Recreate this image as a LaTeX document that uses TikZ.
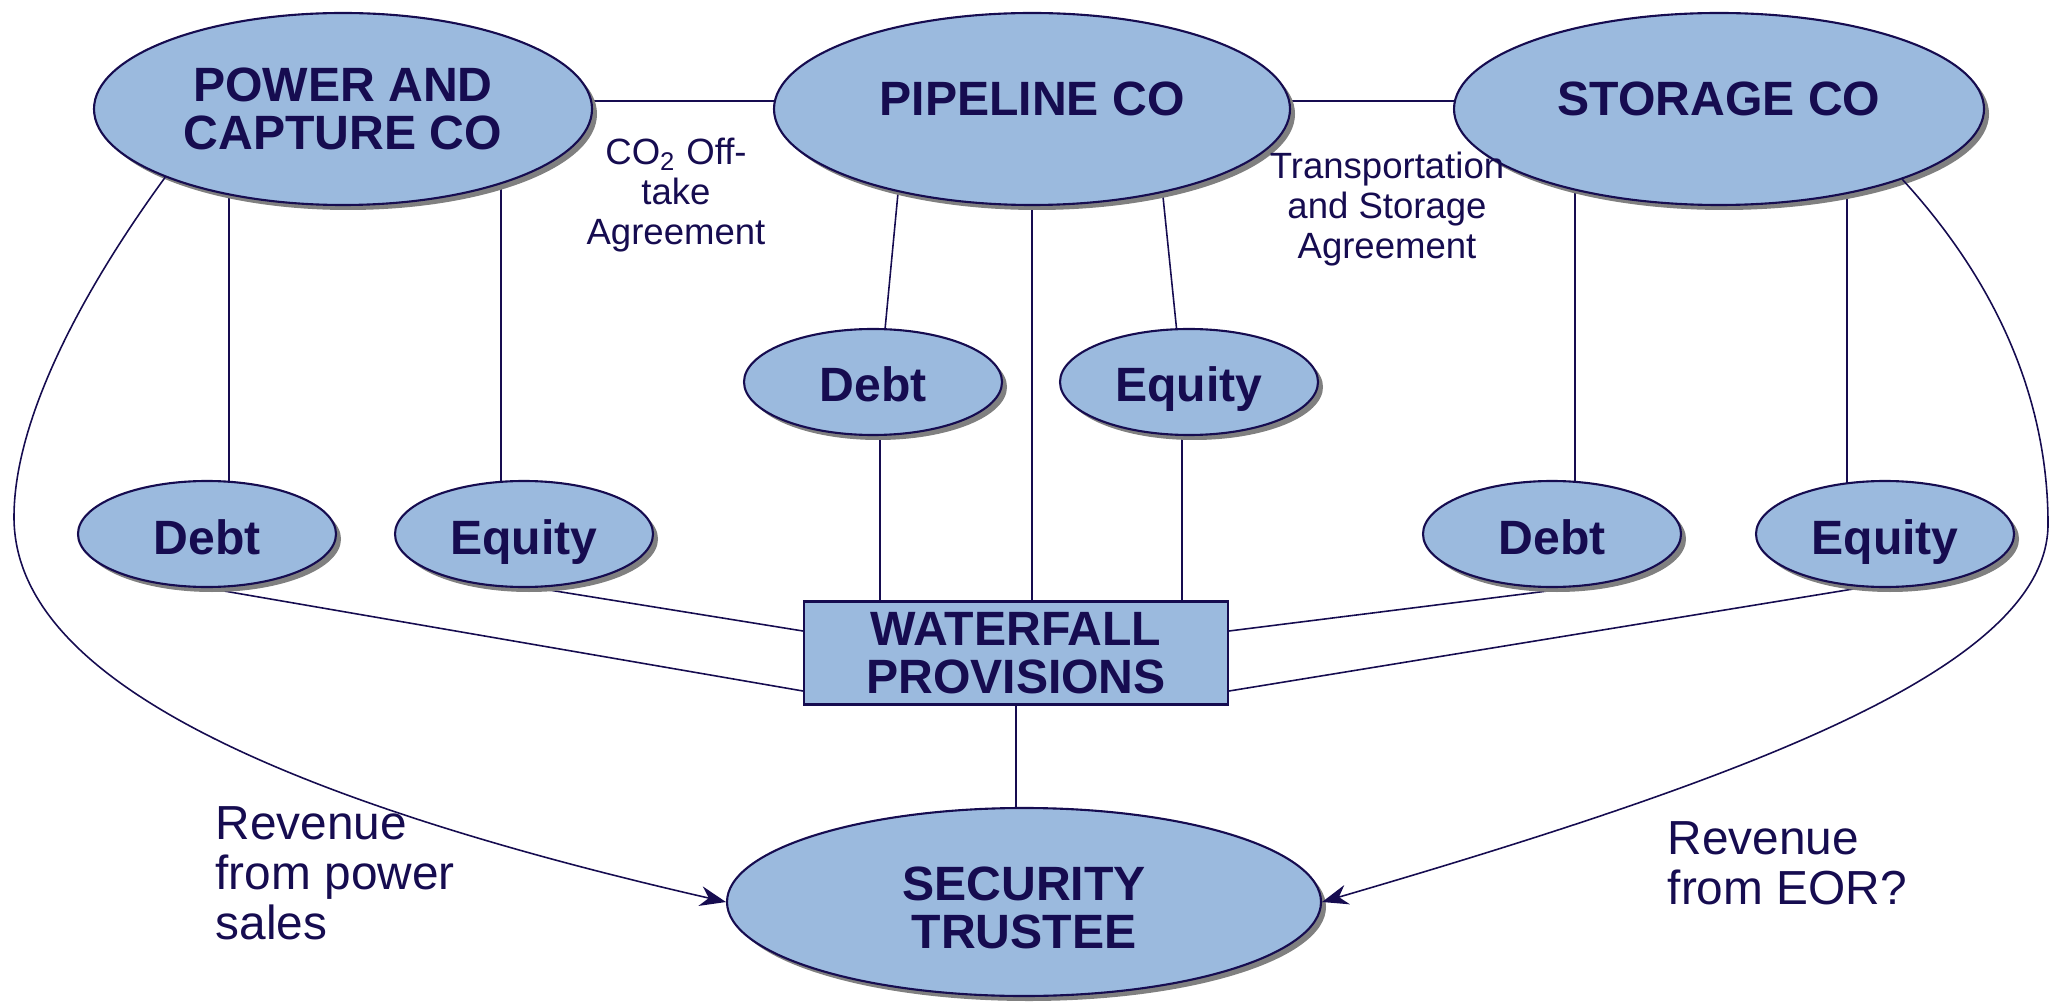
\documentclass[tikz,border=0pt]{standalone}
\usepackage{fontspec}
\setmainfont{Liberation Sans}
\usetikzlibrary{shapes.geometric,shadows,backgrounds,arrows.meta}
\definecolor{navy}{RGB}{22,12,80}
\definecolor{boxblue}{RGB}{155,186,222}

\begin{document}
\begin{tikzpicture}[>={Stealth[length=2.6mm,width=2mm]},
        every node/.style={text=navy},
        party/.style={ellipse,draw=navy,line width=0.6pt,fill=boxblue,inner sep=0pt,align=center,
            drop shadow={shadow xshift=0.5mm,shadow yshift=-0.5mm,fill=gray,opacity=1},
            font=\fontsize{13.7}{13.8}\selectfont\bfseries},
        money/.style={party,minimum width=2.58cm,minimum height=1.06cm,text height=4.0mm,text depth=0pt},
        note/.style={font=\fontsize{10.4}{11.4}\selectfont,align=center},
        rev/.style={font=\fontsize{13.6}{14.2}\selectfont,align=left,anchor=west,inner sep=0pt},
        link/.style={draw=navy,line width=0.45pt}]
        \useasboundingbox (0,0) rectangle (20.53,10.07);
        % companies
        \node[party,minimum width=4.98cm,minimum height=1.92cm] (power) at (3.43,8.98) {POWER AND\\CAPTURE CO};
        \node[party,minimum width=5.16cm,minimum height=1.92cm,text depth=2mm] (pipe) at (10.32,8.98) {PIPELINE CO};
        \node[party,minimum width=5.30cm,minimum height=1.92cm,text depth=2mm] (storage) at (17.19,8.98) {STORAGE CO};
        % financing
        \node[money] (pdebt) at (8.73,6.25) {Debt};
        \node[money] (pequity) at (11.89,6.25) {Equity};
        \node[money] (cdebt) at (2.07,4.73) {Debt};
        \node[money] (cequity) at (5.24,4.73) {Equity};
        \node[money] (sdebt) at (15.52,4.73) {Debt};
        \node[money] (sequity) at (18.85,4.73) {Equity};
        \node[draw=navy,line width=0.6pt,fill=boxblue,minimum width=4.24cm,minimum height=1.03cm,inner sep=0pt,align=center,
            font=\fontsize{13.7}{13.8}\selectfont\bfseries] (wf) at (10.16,3.54) {WATERFALL\\PROVISIONS};
        \node[party,minimum width=5.94cm,minimum height=1.88cm,text height=9.4mm] (trustee) at (10.24,1.05) {SECURITY\\TRUSTEE};
        % agreements and revenue
        \node[note] (offtake) at (6.76,8.12) {CO\textsubscript{2} Off-\\take\\Agreement};
        \node[note] (tsa) at (13.87,7.98) {Transportation\\and Storage\\Agreement};
        \node[rev] (powrev) at (2.15,1.34) {Revenue\\from power\\sales};
        \node[rev] (eorrev) at (16.67,1.44) {Revenue\\from EOR?};
        \begin{scope}[on background layer]
            \draw[link] ([yshift=.8mm]power.center) -- ([yshift=.8mm]pipe.center);
            \draw[link] ([yshift=.8mm]pipe.center) -- ([yshift=.8mm]storage.center);
            \draw[link] ([xshift=2.2mm]cdebt.center) |- (power);
            \draw[link] ([xshift=-2.3mm]cequity.center) |- (power);
            \draw[link] ([xshift=.7mm]pdebt.center) -- ([xshift=-12.6mm]pipe.center);
            \draw[link] ([xshift=-.7mm]pequity.center) -- ([xshift=12.2mm]pipe.center);
            \draw[link] ([xshift=2.3mm]sdebt.center) |- (storage);
            \draw[link] ([xshift=-3.8mm]sequity.center) |- (storage);
            \draw[link] (pipe) -- (pipe |- wf);
            \draw[link] ([xshift=.7mm]pdebt.center) |- (wf);
            \draw[link] ([xshift=-.7mm]pequity.center) |- (wf);
            \draw[link] (cdebt.south) -- ([yshift=-3.8mm]wf.west);
            \draw[link] ([xshift=1.3mm]cequity.south) -- ([yshift=2.2mm]wf.west);
            \draw[link] ([xshift=1.9mm]sdebt.south) -- ([yshift=2.2mm]wf.east);
            \draw[link] ([xshift=-2.6mm]sequity.south) -- ([yshift=-3.8mm]wf.east);
            \draw[link] (wf) -- (wf |- trustee);
        \end{scope}
        \draw[link,->] (power.201) .. controls (0.85,7.2) and (0.14,5.9) .. (0.14,4.9)
            .. controls (0.14,3.6) and (1.8,2.3) .. (trustee.west);
        \draw[link,->] (storage.339) .. controls (20.1,7.1) and (20.48,5.9) .. (20.48,4.83)
            .. controls (20.48,3.4) and (17.5,2.3) .. (trustee.east);
    \end{tikzpicture}
\end{document}
